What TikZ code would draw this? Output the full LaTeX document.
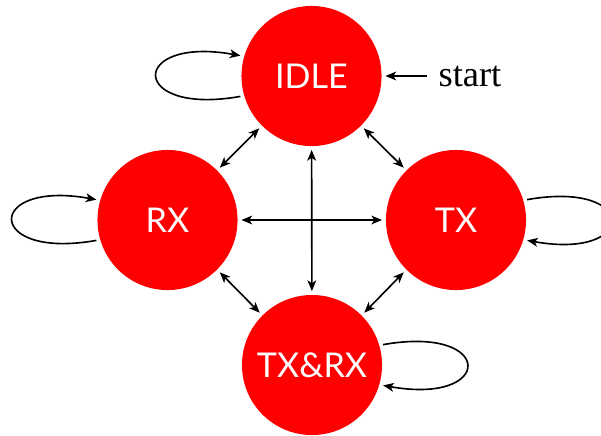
\documentclass[tikz,border=0pt]{standalone}
\usepackage{fontspec}
\setmainfont{Liberation Serif}
\newfontfamily\statefont{Lato}
\usetikzlibrary{arrows.meta}
\begin{document}
\begin{tikzpicture}[x=0.3077pt,y=-0.3077pt,
  tip/.tip={Stealth[length=3.3pt,width=2.7pt,inset=0.9pt]},
  state/.style={circle,fill=red,draw=none,minimum size=43.1pt,inner sep=0pt,
    outer sep=1.2pt,text=white,font=\statefont\fontsize{10.5}{12}\selectfont},
  link/.style={draw,line width=0.5pt,{tip}-{tip}},
  selfloop/.style={draw,line width=0.5pt,-{tip}},
  entry/.style={draw,line width=0.5pt,-{tip}}]
\useasboundingbox (0,0) rectangle (601,435);
% the four states
\node[state] (idle) at (311.5,76) {IDLE};
\node[state] (rx)   at (167.5,220) {RX};
\node[state] (tx)   at (456,220) {TX};
\node[state] (txrx) at (312,365) {TX\&RX};
% initial marker
\node[font=\fontsize{11.2}{13}\selectfont] (start) at (470,76) {start};
\draw[entry] (start.west) -- (idle.east);
% transitions between states
\draw[link] (idle.225) -- (rx.45);
\draw[link] (idle.315) -- (tx.135);
\draw[link] (rx.315) -- (txrx.135);
\draw[link] (tx.225) -- (txrx.45);
\draw[link] (rx) -- (tx);
\draw[link] (idle) -- (txrx);
% self loops
\draw[selfloop] (idle.196) .. controls +(-112,20) and +(-112,-20) .. (idle.164);
\draw[selfloop] (rx.196) .. controls +(-112,20) and +(-112,-20) .. (rx.164);
\draw[selfloop] (tx.16) .. controls +(112,-20) and +(112,20) .. (tx.-16);
\draw[selfloop] (txrx.16) .. controls +(112,-20) and +(112,20) .. (txrx.-16);
\end{tikzpicture}
\end{document}
